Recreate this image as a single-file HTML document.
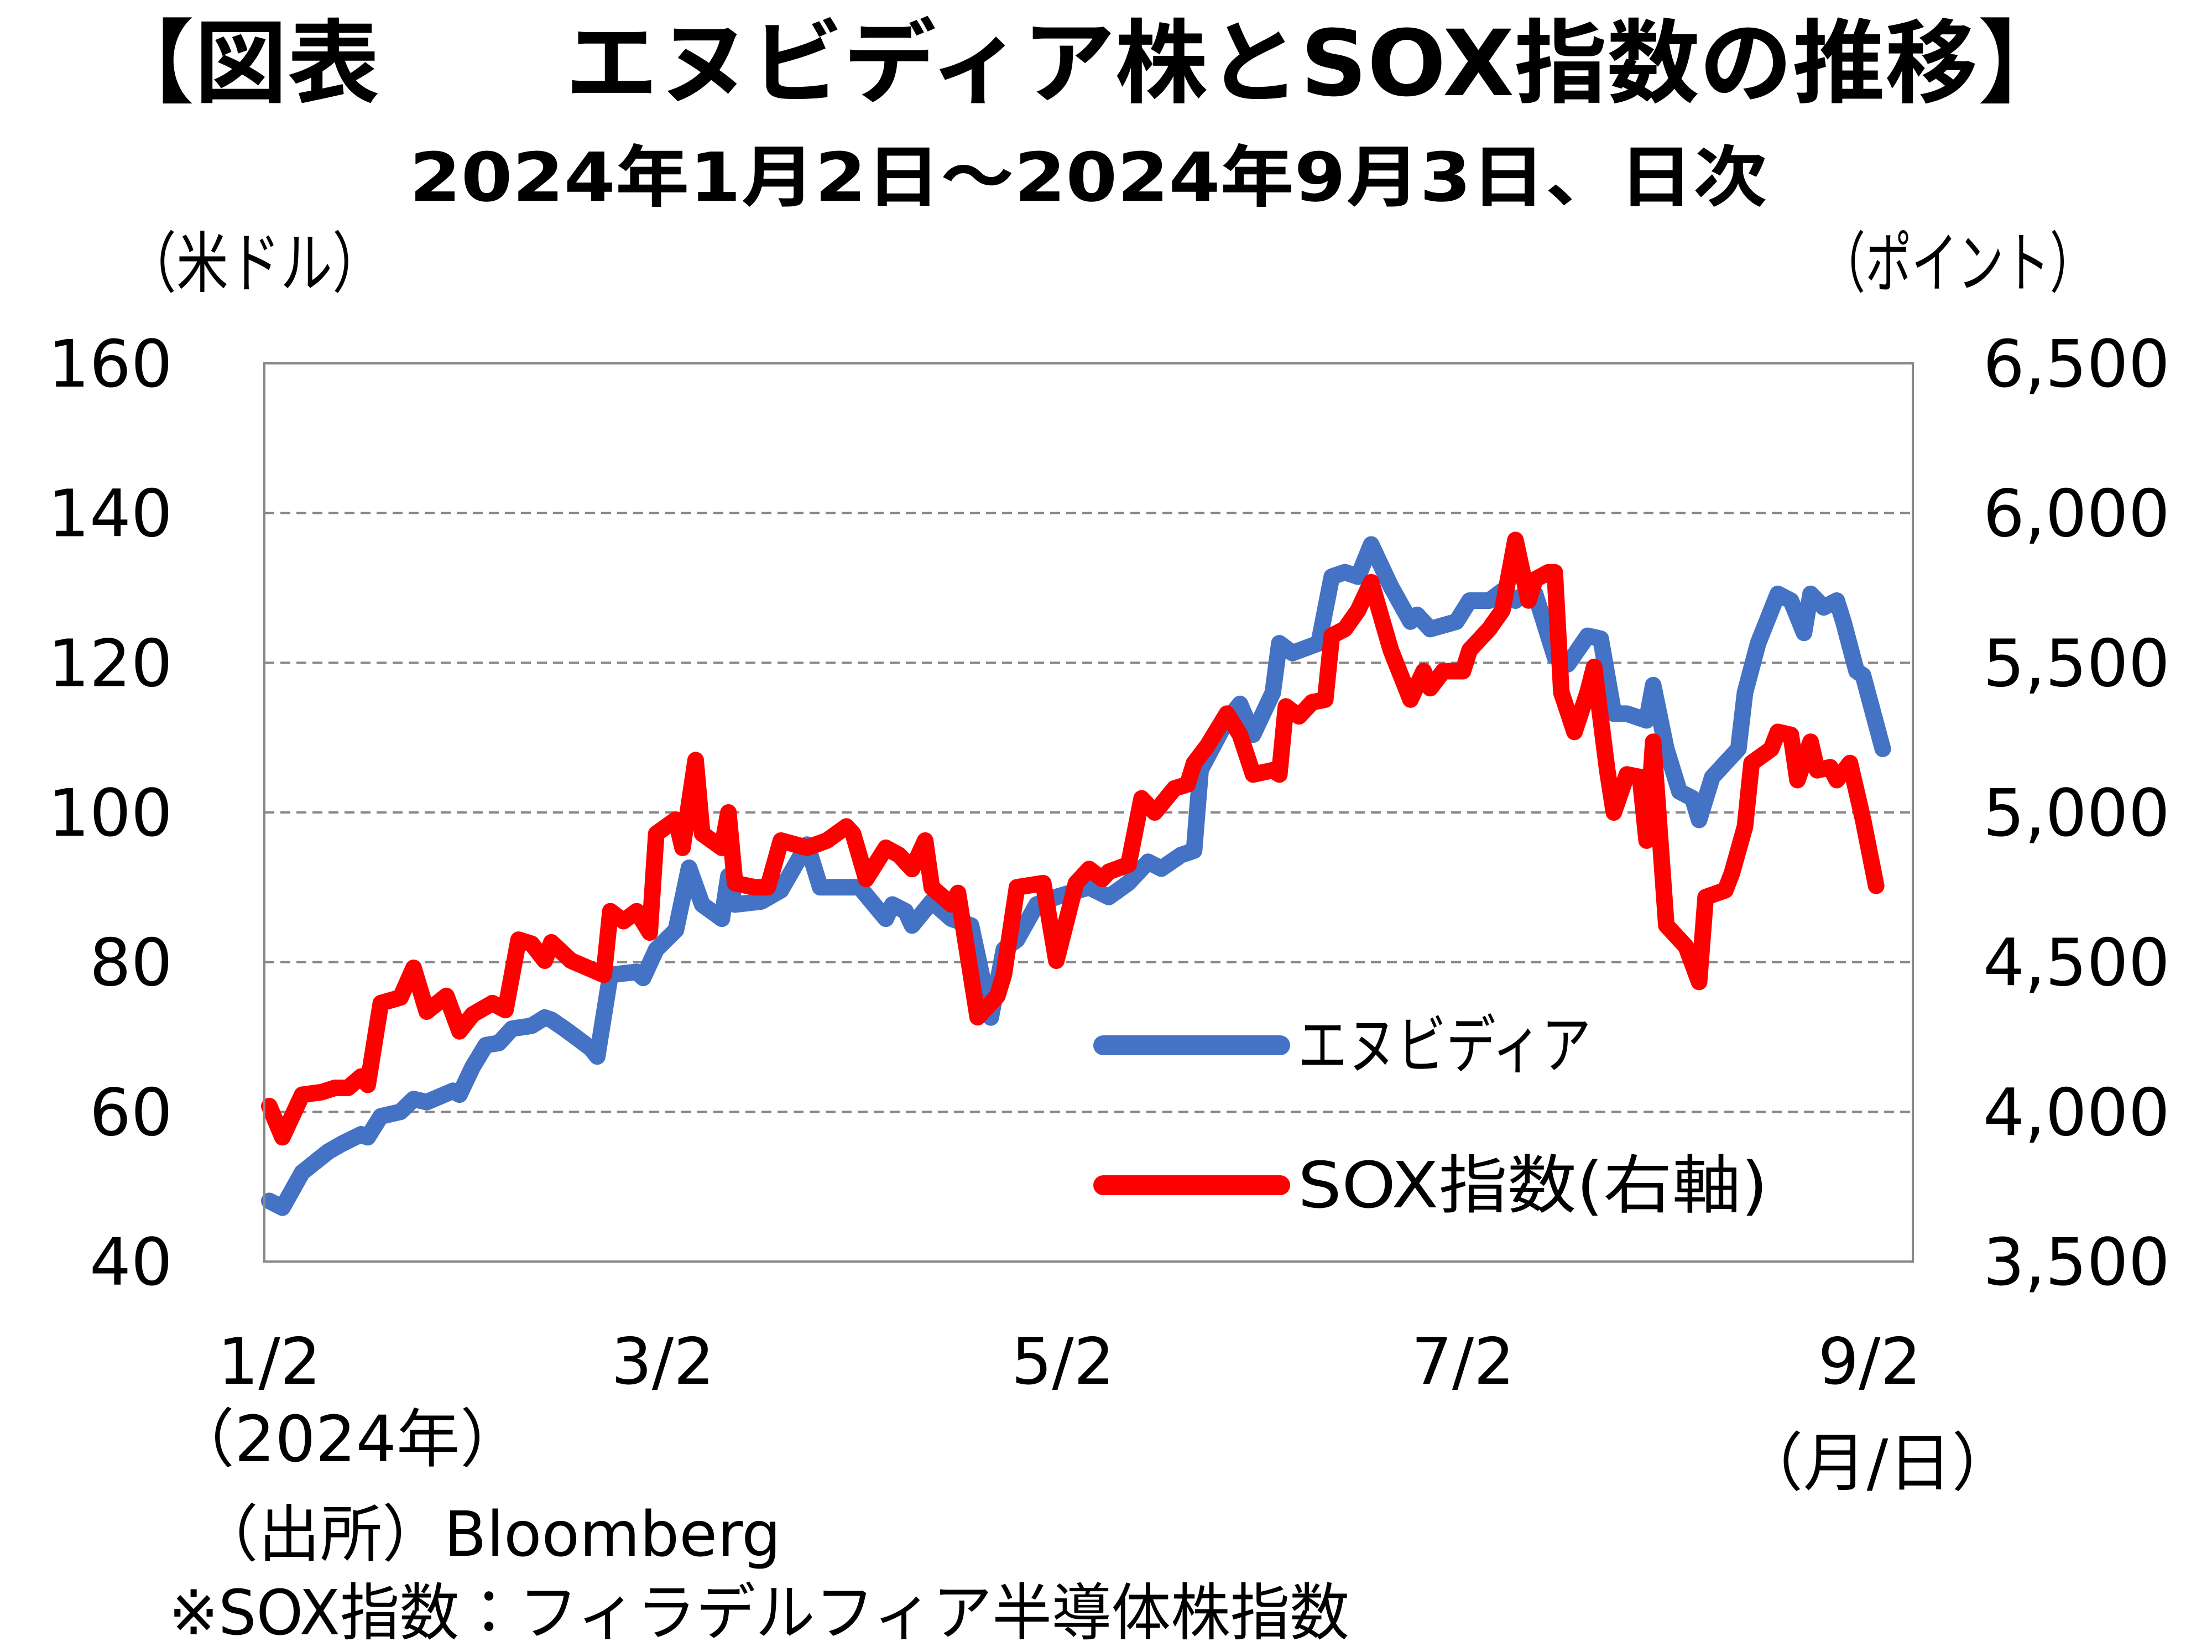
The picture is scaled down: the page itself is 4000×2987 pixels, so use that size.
<!DOCTYPE html>
<html><head><meta charset="utf-8"><style>
html,body{margin:0;padding:0;background:#fff;}
svg{display:block;}
text{font-family:"DejaVu Sans","Noto Sans CJK JP",sans-serif;fill:#000;}
</style></head><body>
<svg id="chart" width="4000" height="2987" viewBox="0 0 4000 2987" xmlns="http://www.w3.org/2000/svg">
<rect x="0" y="0" width="4000" height="2987" fill="#fff"/>
<text x="1964" y="172" text-anchor="middle" font-size="165" font-weight="bold" textLength="3560" lengthAdjust="spacingAndGlyphs">【図表　　エヌビディア株とSOX指数の推移】</text>
<text x="1968" y="363" text-anchor="middle" font-size="122" font-weight="bold" textLength="2455" lengthAdjust="spacingAndGlyphs">2024年1月2日～2024年9月3日、日次</text>
<text x="225" y="518" font-size="120" textLength="470" lengthAdjust="spacingAndGlyphs">（米ドル）</text>
<text x="3290" y="518" font-size="120" textLength="500" lengthAdjust="spacingAndGlyphs">（ポイント）</text>
<g id="grid"></g>
<g id="yleft"></g>
<g id="yright"></g>
<g id="xaxis"></g>
<g id="series"></g>
<rect x="478" y="657" width="2981" height="1624" fill="none" stroke="#888" stroke-width="4"/>
<text x="628" y="2642" text-anchor="middle" font-size="115">（2024年）</text>
<text x="3395" y="2685" text-anchor="middle" font-size="115">（月/日）</text>
<g>
<line x1="1995" y1="1890" x2="2315" y2="1890" stroke="#4472C4" stroke-width="36" stroke-linecap="round"/>
<text x="2347" y="1930" font-size="115" textLength="530" lengthAdjust="spacingAndGlyphs">エヌビディア</text>
<line x1="1995" y1="2143" x2="2315" y2="2143" stroke="#FF0000" stroke-width="36" stroke-linecap="round"/>
<text x="2347" y="2183" font-size="115" textLength="850" lengthAdjust="spacingAndGlyphs">SOX指数(右軸)</text>
</g>
<text x="355" y="2813" font-size="112">（出所）Bloomberg</text>
<text x="305" y="2955" font-size="112" textLength="2135" lengthAdjust="spacingAndGlyphs">※SOX指数：フィラデルフィア半導体株指数</text>
</svg>
<script>
// NVIDIA (USD) — day offset from 2024-01-02, value
const nvDays = [0,2,5,9,11,14,15,17,20,22,24,28,29,31,33,35,37,40,42,43,45,49,50,52,56,57,59,62,64,66,69,70,71,75,78,82,84,90,94,95,97,98,101,104,107,110,112,114,117,120,125,128,131,134,136,139,141,142,146,148,150,153,154,156,160,162,164,166,168,171,174,175,177,181,183,186,188,190,192,193,196,198,201,203,205,207,210,211,213,215,217,218,220,224,225,227,230,232,234,235,237,239,240,242,243,246];
const nvVals = [48.1,47.2,51.9,54.7,55.7,57.0,56.6,59.4,60.0,61.7,61.3,62.8,62.3,66.0,68.9,69.2,71.1,71.5,72.6,72.3,71.1,68.5,67.4,78.3,78.7,77.9,81.7,84.3,92.6,87.7,85.8,91.5,87.7,88.1,89.6,95.7,90.0,90.0,85.8,87.7,86.8,84.9,88.1,85.8,84.9,72.6,81.7,83.0,87.7,88.7,90.0,88.7,90.6,93.4,92.5,94.3,94.9,105.7,112.3,114.5,110.4,116.0,122.6,121.3,122.6,131.5,132.1,131.5,135.8,130.2,125.5,126.4,124.5,125.5,128.3,128.3,129.6,128.3,129.6,129.2,120.8,119.8,123.6,123.2,113.2,113.2,112.3,117.0,108.5,102.8,101.9,99.0,104.7,108.5,116.0,122.6,129.2,128.3,124.0,129.2,127.4,128.3,125.5,118.9,118.3,108.5];
// SOX index (points, right axis)
const soxDays = [0,2,5,8,10,12,14,15,17,20,22,24,27,29,31,34,36,38,40,42,43,46,51,52,54,56,58,59,62,63,65,66,69,70,71,74,76,78,82,85,88,89,91,94,96,98,100,101,104,105,108,111,112,114,118,120,123,125,127,128,131,133,135,138,140,141,143,146,148,150,153,154,155,157,159,161,162,164,166,168,171,174,176,177,179,182,183,186,188,190,192,193,195,196,197,199,201,202,204,205,207,209,210,211,213,216,218,219,222,223,225,226,229,230,232,233,235,236,238,239,241,243,245];
const soxVals = [4019,3915,4057,4066,4080,4080,4118,4090,4363,4382,4481,4335,4387,4269,4325,4363,4340,4575,4561,4505,4566,4505,4458,4670,4637,4670,4599,4929,4976,4882,5175,4929,4882,5000,4764,4750,4750,4906,4882,4906,4953,4929,4778,4882,4858,4811,4906,4750,4693,4731,4316,4387,4458,4750,4764,4505,4764,4811,4778,4802,4826,5047,5000,5080,5094,5165,5222,5330,5259,5127,5141,5127,5354,5321,5368,5377,5590,5613,5675,5769,5542,5377,5472,5415,5472,5472,5542,5613,5675,5910,5708,5778,5802,5802,5401,5269,5401,5486,5141,5000,5127,5118,4906,5236,4623,4552,4434,4717,4740,4797,4953,5165,5212,5269,5259,5108,5236,5141,5151,5108,5165,4976,4755];
const leftTicks = [40,60,80,100,120,140,160];
const rightTicks = ["3,500","4,000","4,500","5,000","5,500","6,000","6,500"];
const rightTickVals = [3500,4000,4500,5000,5500,6000,6500];
const xTickLabels = ["1/2","3/2","5/2","7/2","9/2"];
const xTickDays = [0,60,121,182,244];

const NS = "http://www.w3.org/2000/svg";
const PL = 478, PR = 3459, PT = 657, PB = 2281;
const X0 = 487, XPD = 11.86;
function xs(d){ return X0 + d*XPD; }
function yl(v){ return PB - (v-40)/120*(PB-PT); }
function yr(v){ return PB - (v-3500)/3000*(PB-PT); }
function mk(tag, attrs, parent){ const e=document.createElementNS(NS,tag); for(const k in attrs) e.setAttribute(k,attrs[k]); parent.appendChild(e); return e; }

const grid=document.getElementById('grid'), yL=document.getElementById('yleft'), yR=document.getElementById('yright'), xA=document.getElementById('xaxis'), ser=document.getElementById('series');
leftTicks.forEach((v,i)=>{
  const y=yl(v);
  if(v>40 && v<160){
    const g=mk('line',{x1:PL,x2:PR,y1:y,y2:y,stroke:'#888','stroke-width':4,'stroke-dasharray':'18 11'},grid);
    
    
  }
  const t=mk('text',{x:312,y:y+42,'text-anchor':'end','font-size':118},yL);
  t.textContent=v;
  
  
});
rightTickVals.forEach((v,i)=>{
  const t=mk('text',{x:3586,y:yr(v)+42,'font-size':118},yR);
  t.textContent=rightTicks[i];
  
  
});
xTickDays.forEach((d,i)=>{
  const t=mk('text',{x:xs(d),y:2502,'text-anchor':'middle','font-size':116},xA);
  t.textContent=xTickLabels[i];
  
  
});
function pts(days, vals, f){ return days.map((d,i)=>xs(d).toFixed(1)+','+f(vals[i]).toFixed(1)).join(' '); }
const nv=mk('polyline',{points:pts(nvDays,nvVals,yl),fill:'none',stroke:'#4472C4','stroke-width':30,'stroke-linejoin':'round','stroke-linecap':'round'},ser);


const sx=mk('polyline',{points:pts(soxDays,soxVals,yr),fill:'none',stroke:'#FF0000','stroke-width':30,'stroke-linejoin':'round','stroke-linecap':'round'},ser);


</script>
</body></html>
